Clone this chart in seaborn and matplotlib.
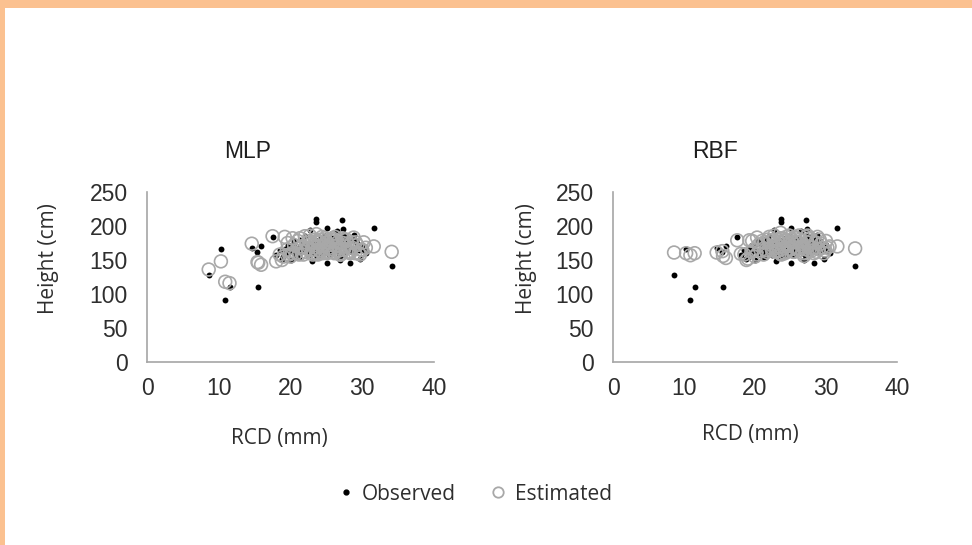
import matplotlib
matplotlib.use("Agg")
import matplotlib.pyplot as plt
from matplotlib.lines import Line2D
from matplotlib.patches import Rectangle
import seaborn as sns
import pandas as pd

# ---- data ----
rcd = [8.6, 10.3, 10.9, 11.5, 14.6, 15.4, 15.9, 15.5, 17.5, 18.0,
       18.8, 19.2, 19.5, 19.0, 19.8, 20.2, 20.5, 20.8, 21.0, 21.3,
       21.5, 21.8, 22.0, 22.3, 22.7, 23.0, 23.2, 23.4, 23.6, 23.6,
       23.8, 24.0, 24.2, 24.4, 24.6, 24.8, 25.1, 25.1, 25.3, 25.5,
       25.7, 26.0, 26.2, 26.5, 26.7, 27.0, 27.2, 27.3, 27.5, 27.8,
       28.0, 28.3, 28.5, 28.8, 29.0, 29.3, 29.7, 30.0, 30.2, 31.6,
       34.1, 21.2, 21.6, 22.1, 22.4, 22.6, 22.9, 23.1, 23.3, 23.5,
       23.7, 23.9, 24.1, 24.3, 24.5, 24.7, 24.9, 25.2, 25.4, 25.6,
       25.8, 26.1, 26.3, 26.6, 26.8, 27.1, 27.4, 27.6, 27.9, 28.2,
       28.6, 29.1, 29.5, 29.8, 30.5, 20.0, 19.6, 20.3, 18.5, 26.9]
height_observed = [128, 166, 91, 111, 167, 162, 171, 111, 184, 158,
                   152, 166, 160, 155, 170, 163, 175, 158, 168, 180,
                   162, 172, 185, 165, 194, 148, 175, 160, 206, 211,
                   170, 180, 158, 172, 165, 185, 197, 145, 168, 178,
                   162, 175, 183, 192, 160, 170, 209, 196, 178, 165,
                   172, 146, 180, 187, 168, 175, 151, 172, 165, 197,
                   141, 155, 165, 170, 158, 175, 168, 162, 178, 165,
                   155, 172, 168, 182, 160, 170, 165, 175, 158, 182,
                   170, 165, 172, 178, 168, 158, 185, 160, 175, 168,
                   162, 178, 165, 170, 160, 150, 172, 180, 165, 150]
height_mlp = [136, 148, 118, 116, 174, 147, 143, 146, 185, 148,
              150, 184, 165, 155, 158, 160, 172, 160, 178, 182,
              168, 158, 185, 175, 186, 165, 160, 180, 188, 178,
              158, 176, 162, 184, 170, 182, 176, 160, 172, 166,
              180, 162, 184, 172, 168, 158, 182, 175, 166, 180,
              162, 160, 176, 183, 160, 172, 158, 165, 176, 170,
              162, 158, 170, 162, 166, 178, 174, 158, 172, 168,
              160, 178, 164, 180, 160, 172, 176, 162, 168, 178,
              182, 160, 170, 176, 164, 160, 180, 170, 174, 162,
              168, 176, 160, 165, 168, 155, 175, 182, 158, 158]
height_rbf = [161, 160, 157, 160, 161, 163, 153, 156, 179, 159,
              150, 179, 162, 152, 165, 158, 172, 164, 178, 176,
              165, 180, 184, 168, 186, 162, 180, 170, 190, 182,
              166, 178, 160, 184, 170, 186, 180, 166, 176, 162,
              182, 168, 186, 178, 160, 166, 184, 176, 170, 182,
              164, 160, 176, 184, 166, 174, 160, 178, 168, 170,
              167, 158, 162, 176, 164, 180, 168, 164, 176, 160,
              158, 182, 168, 178, 162, 174, 166, 176, 162, 184,
              176, 164, 180, 170, 168, 160, 186, 164, 178, 168,
              162, 180, 168, 164, 170, 155, 178, 183, 158, 156]

panel_titles = ["MLP", "RBF"]
x_ticks = [0, 10, 20, 30, 40]
y_ticks = [0, 50, 100, 150, 200, 250]

df = pd.DataFrame({"RCD": rcd, "Observed": height_observed,
                   "MLP": height_mlp, "RBF": height_rbf})

sns.set_style("white")
plt.rcParams["font.family"] = ["Liberation Sans", "DejaVu Sans"]

W, H = 972, 545
fig = plt.figure(figsize=(W / 100, H / 100), dpi=100)
fig.patch.set_facecolor("white")

# orange frame (top and left edges)
fig.patches.append(Rectangle((0, 1 - 8 / H), 1, 8 / H, transform=fig.transFigure,
                             facecolor="#FBC190", edgecolor="none", zorder=0))
fig.patches.append(Rectangle((0, 0), 5 / W, 1, transform=fig.transFigure,
                             facecolor="#FBC190", edgecolor="none", zorder=0))

axes_px = [(147, 434), (613, 897)]
y_top, y_bot = 192, 362
title_x = [0.352, 0.36]
ylab_x = [-0.307, -0.268]
xlab = [(0.46, -0.39), (0.482, -0.365)]

spine_col = "#A6A6A6"
text_col = "#2E2E2E"

for i, (x0, x1) in enumerate(axes_px):
    ax = fig.add_axes([x0 / W, 1 - y_bot / H, (x1 - x0) / W, (y_bot - y_top) / H])
    sns.scatterplot(data=df, x="RCD", y="Observed", ax=ax, color="black",
                    s=18, linewidth=0, zorder=3)
    sns.scatterplot(data=df, x="RCD", y=panel_titles[i], ax=ax,
                    facecolors="none", edgecolor="#A8A8A8", s=85,
                    linewidth=1.2, zorder=4)
    ax.set_xlim(0, 40)
    ax.set_ylim(0, 250)
    ax.set_xticks(x_ticks)
    ax.set_yticks(y_ticks)
    for s in ["top", "right"]:
        ax.spines[s].set_visible(False)
    for s in ["left", "bottom"]:
        ax.spines[s].set_color(spine_col)
        ax.spines[s].set_linewidth(1.2)
    ax.tick_params(axis="x", direction="inout", length=11, width=1.2,
                   color=spine_col, labelsize=16.5, labelcolor=text_col, pad=5)
    ax.tick_params(axis="y", direction="out", length=6, width=1.2,
                   color=spine_col, labelsize=16.5, labelcolor=text_col, pad=8)
    ax.set_xlabel("RCD (mm)", fontsize=15, color=text_col,
                  family=["Open Sans", "DejaVu Sans"])
    ax.set_ylabel("Height (cm)", fontsize=15, color=text_col,
                  family=["Open Sans", "DejaVu Sans"])
    ax.xaxis.set_label_coords(*xlab[i])
    ax.yaxis.set_label_coords(ylab_x[i], 0.61)
    ax.text(title_x[i], 1.24, panel_titles[i], transform=ax.transAxes,
            ha="center", va="center", fontsize=16.5, color="#1E1E1E")
    ax.set_facecolor("none")
    if ax.get_legend():
        ax.get_legend().remove()

handles = [
    Line2D([], [], marker="o", linestyle="none", markersize=3.5,
           markerfacecolor="black", markeredgecolor="black"),
    Line2D([], [], marker="o", linestyle="none", markersize=7.5,
           markerfacecolor="none", markeredgecolor="#A8A8A8", markeredgewidth=1.3),
]
fig.legend(handles, ["Observed", "Estimated"], loc="center",
           bbox_to_anchor=(0.487, 1 - 494 / H), ncol=2, frameon=False,
           handletextpad=0.3, columnspacing=1.5, handlelength=1.0,
           prop={"family": ["Open Sans", "DejaVu Sans"], "size": 15},
           labelcolor=text_col)

fig.savefig("out.png", dpi=100, facecolor="white")
